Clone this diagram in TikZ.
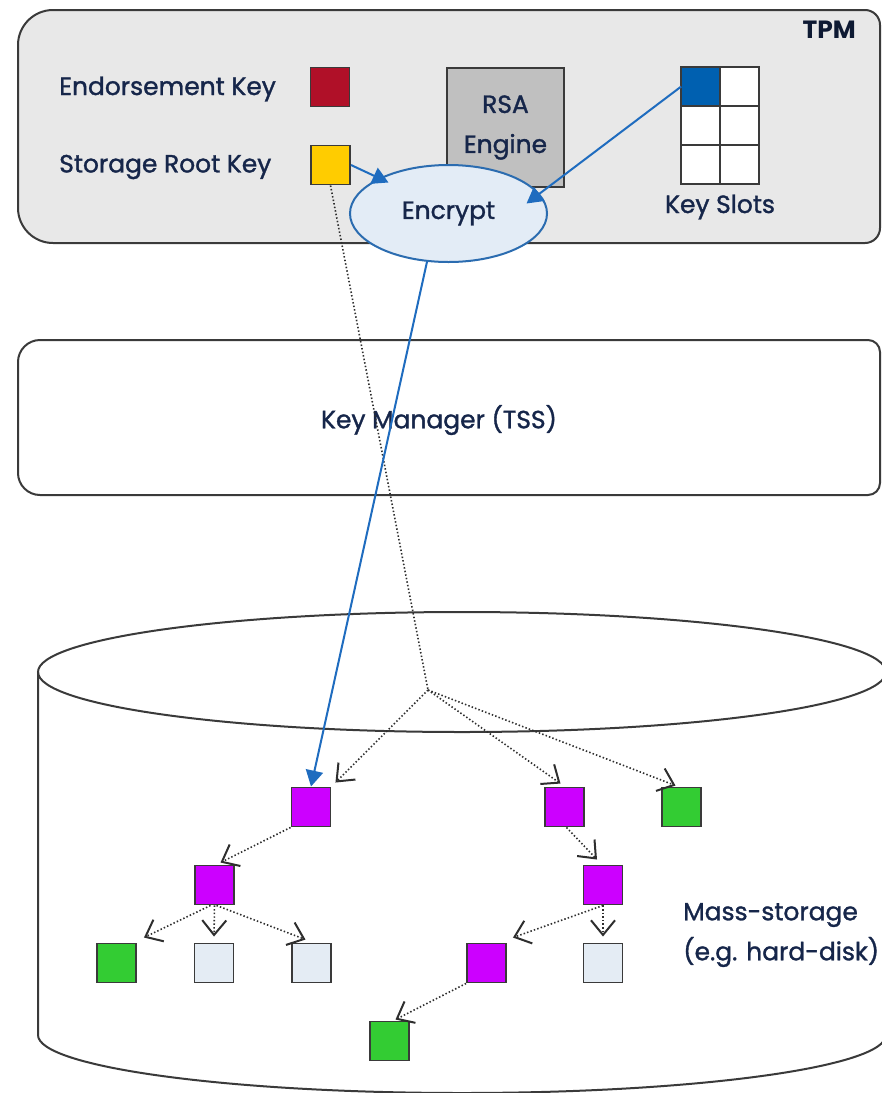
\documentclass[tikz,border=0pt]{standalone}
\usepackage{fontspec}
\setmainfont{Poppins}
\newfontfamily\lblfont{Poppins}[FakeBold=1.3]
\usetikzlibrary{arrows.meta,shapes.geometric,calc}
\definecolor{ekred}{HTML}{B01028}
\definecolor{srkyel}{HTML}{FFCC00}
\definecolor{rsagray}{HTML}{C0C0C0}
\definecolor{slotblue}{HTML}{0060B0}
\definecolor{encblue}{HTML}{2B6CB0}
\definecolor{encfill}{HTML}{E3ECF6}
\definecolor{tpmfill}{HTML}{E8E8E8}
\definecolor{edge}{HTML}{3A3A3A}
\definecolor{arrblue}{HTML}{1F6CBF}
\definecolor{dotc}{HTML}{2E2E2E}
\definecolor{purp}{HTML}{CC00FF}
\definecolor{grn}{HTML}{33CC33}
\definecolor{lgt}{HTML}{E4ECF4}
\definecolor{txt}{HTML}{16264A}
\definecolor{tpmtxt}{HTML}{0E1A33}
\begin{document}
\begin{tikzpicture}[x={(0.75pt,0pt)}, y={(0pt,-0.75pt)},
  lbl/.style={inner sep=0pt, text=txt, font=\lblfont\fontsize{18.7}{30}\selectfont\addfontfeature{FakeBold=1.3}},
  keysq/.style={draw=edge, line width=1.2pt, minimum size=29.5pt, inner sep=0pt},
  slot/.style={draw=edge, line width=1.2pt, minimum size=29.25pt, inner sep=0pt, fill=white},
  bluearrow/.style={draw=arrblue, line width=1.5pt, -{Triangle[length=12pt,width=13pt]}},
  dotarrow/.style={draw=dotc, line width=1.2pt, dash pattern=on 1.1pt off 1.6pt, -{Straight Barb[length=11pt,width=18pt,line width=1.5pt]}},
  dotline/.style={draw=dotc, line width=1.2pt, dash pattern=on 1.1pt off 1.6pt},
  boxline/.style={draw=edge, line width=1.5pt},
]
\useasboundingbox (0,0) rectangle (882,1093);
\clip (0,0) rectangle (882,1093);

% TPM box
\path[boxline, fill=tpmfill] (53,10) -- (865,10) .. controls (873.3,10) and (880,16.7) .. (880,25)
  -- (880,228) .. controls (880,236.3) and (873.3,243) .. (865,243)
  -- (53,243) .. controls (33.7,243) and (18,227.3) .. (18,208)
  -- (18,45) .. controls (18,25.7) and (33.7,10) .. (53,10) -- cycle;

% Key manager box
\path[boxline, fill=white] (40,340) -- (868,340) .. controls (874.6,340) and (880,345.4) .. (880,352)
  -- (880,483) .. controls (880,489.6) and (874.6,495) .. (868,495)
  -- (40,495) .. controls (27.9,495) and (18,485.1) .. (18,473)
  -- (18,362) .. controls (18,349.9) and (27.9,340) .. (40,340) -- cycle;

% Cylinder
\draw[boxline] (462,672) ellipse [x radius=318pt, y radius=45pt];
\draw[boxline] (38,672) -- (38,1035) .. controls (38,1067) and (228,1093) .. (462,1093)
  .. controls (696,1093) and (886,1067) .. (886,1035) -- (886,672);

% TPM content
\node[inner sep=0pt, anchor=east, font=\fontsize{18.7}{24}\selectfont\bfseries, text=tpmtxt] (TPM) at (856,30) {TPM};
\node[lbl, anchor=west] (EKt) at (59,89) {Endorsement Key};
\node[lbl, anchor=west] (SRKt) at (59,167) {Storage Root Key};
\node[keysq, fill=ekred] (EK) at (330,87) {};
\node[keysq, fill=srkyel] (SRK) at (330.5,165) {};
\node[lbl, draw=edge, line width=1.2pt, fill=rsagray, minimum width=87.75pt, minimum height=89.25pt,
  align=center] (RSA) at (505.5,127.5) {RSA\\Engine};

\node[slot, fill=slotblue] (KS11) at (700.5,86.5) {};
\node[slot] (KS12) at (739.5,86.5) {};
\node[slot] (KS21) at (700.5,125.5) {};
\node[slot] (KS22) at (739.5,125.5) {};
\node[slot] (KS31) at (700.5,164.5) {};
\node[slot] (KS32) at (739.5,164.5) {};
\node[lbl] (KSl) at (720,207) {Key Slots};

\node[lbl, ellipse, draw=encblue, line width=1.5pt, fill=encfill, minimum width=147.75pt, minimum height=72.75pt] (Enc) at (448.5,213.5) {Encrypt};

% Key manager
\node[lbl] (KM) at (439,420) {Key Manager (TSS)};

% Storage
\coordinate (J) at (428,690);
\node[keysq, fill=purp] (P1) at (311,807) {};
\node[keysq, fill=purp] (P2) at (564.5,807) {};
\node[keysq, fill=grn]  (G1) at (681.5,807) {};
\node[keysq, fill=purp] (P3) at (214.5,885) {};
\node[keysq, fill=purp] (P4) at (603,885) {};
\node[keysq, fill=grn]  (G2) at (116.5,963) {};
\node[keysq, fill=lgt]  (L1) at (214,963) {};
\node[keysq, fill=lgt]  (L2) at (311.5,963) {};
\node[keysq, fill=purp] (P5) at (486.5,963) {};
\node[keysq, fill=lgt]  (L3) at (603,963) {};
\node[keysq, fill=grn]  (G3) at (389.5,1041) {};
\node[lbl, anchor=west, align=left] (MS) at (683,935) {Mass-storage\\(e.g. hard-disk)};

% Connectors
\draw[dotline] (SRK.south) -- (J);
\draw[dotarrow] (J) -- ($(P1.north east)+(4,-4)$);
\draw[dotarrow] (J) -- ($(P2.north)+(-4,-3)$);
\draw[dotarrow] (J) -- ($(G1.north)+(-6,-1)$);
\draw[dotarrow] (P1.south west) -- ($(P3.north)+(6,-2)$);
\draw[dotarrow] ($(P3.south)+(-4,0)$) -- ($(G2.north east)+(7,-5)$);
\draw[dotarrow] (P3.south) -- ($(L1.north)+(0,-6)$);
\draw[dotarrow] ($(P3.south)+(2,0)$) -- ($(L2.north)+(-6,-3)$);
\draw[dotarrow] ($(P2.south)+(2,0)$) -- ($(P4.north)+(-6,-5)$);
\draw[dotarrow] (P4.south) -- ($(P5.north east)+(6,-5)$);
\draw[dotarrow] (P4.south) -- ($(L3.north)+(0,-6)$);
\draw[dotarrow] (P5.south west) -- ($(G3.north)+(6,-1)$);

\draw[bluearrow] (SRK.east) -- ($(Enc.center)+(-60,-31)$);
\draw[bluearrow] ($(KS11.west)+(1,0)$) -- ($(Enc.center)+(78,-10)$);
\draw[bluearrow] (Enc.246) -- (P1.north);
\end{tikzpicture}
\end{document}
